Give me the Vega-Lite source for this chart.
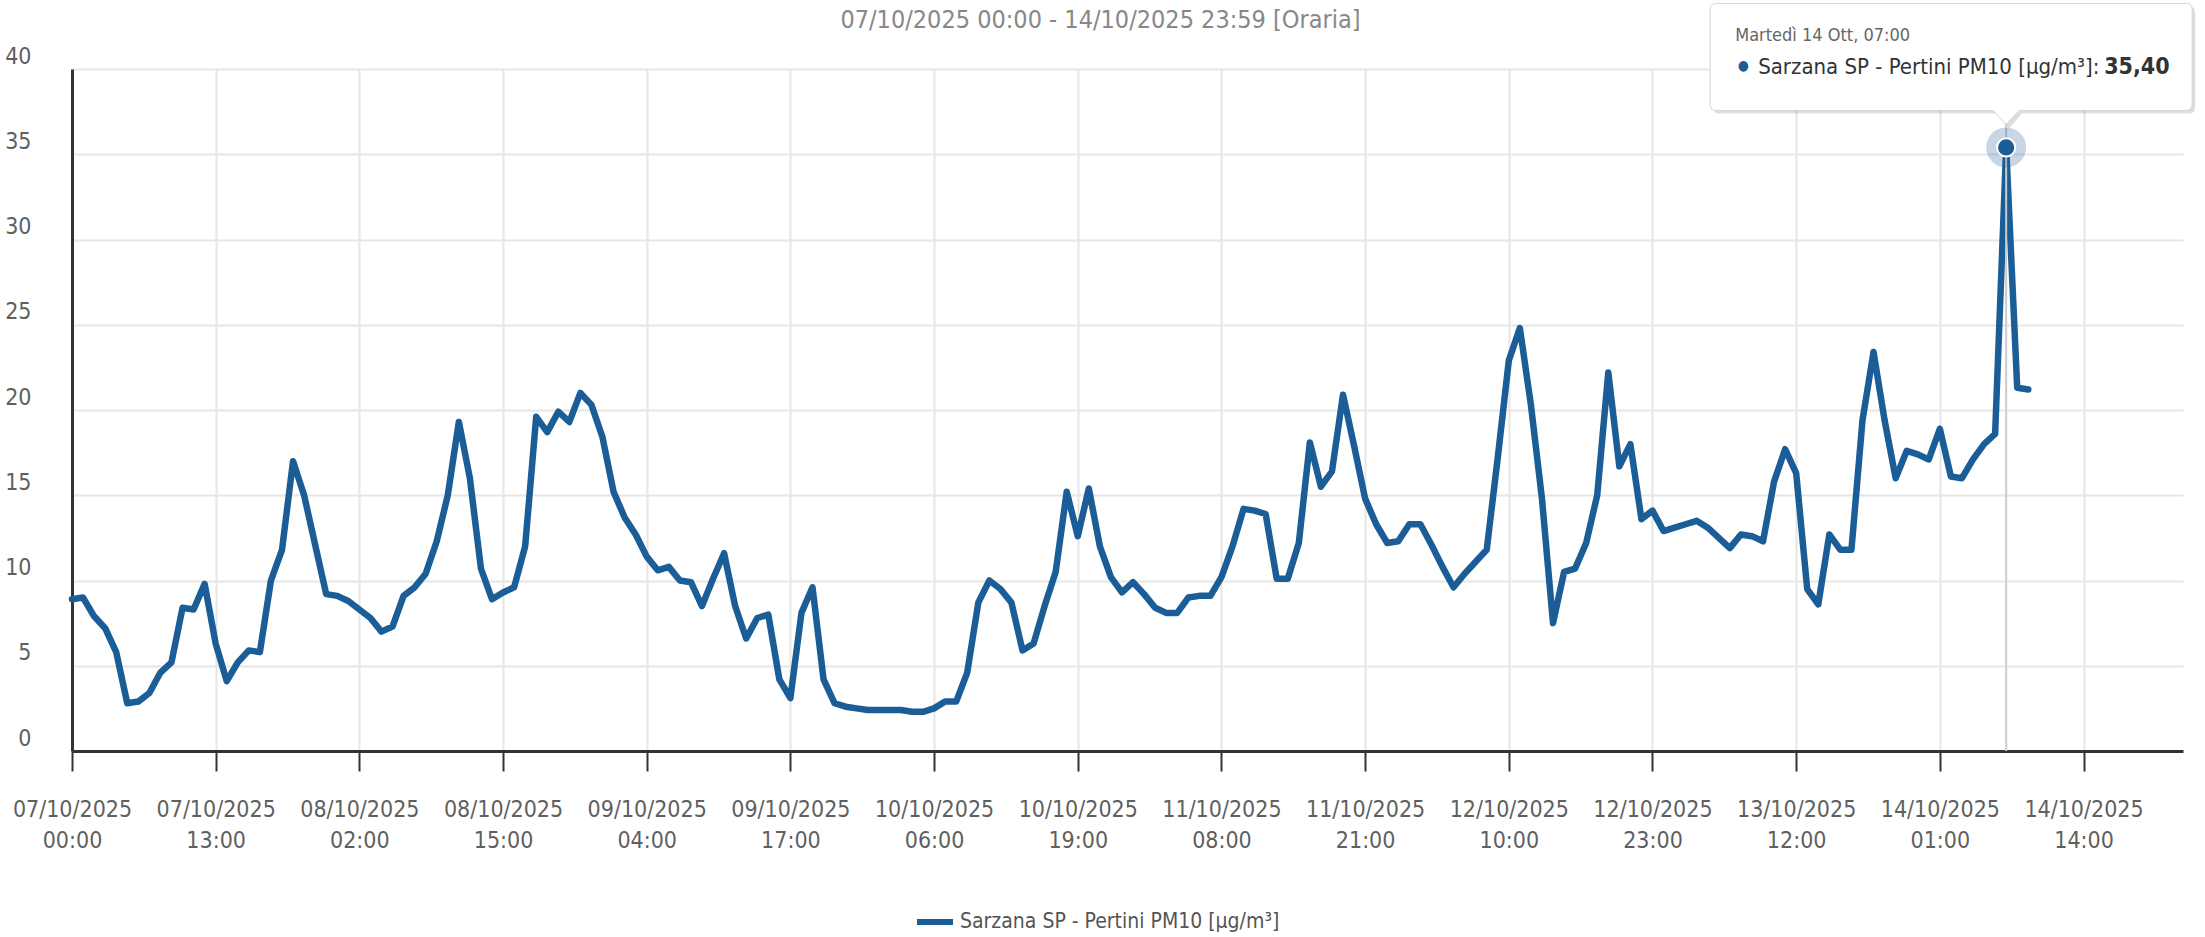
{
  "$schema": "https://vega.github.io/schema/vega-lite/v6.json",
  "width": 2111,
  "height": 682,
  "autosize": {"type": "none"},
  "padding": {"left": 72, "top": 69, "right": 22, "bottom": 186},
  "background": "white",
  "config": {
    "view": {"stroke": null},
    "font": "DejaVu Sans Condensed, DejaVu Sans, sans-serif"
  },
  "title": {
    "text": "07/10/2025 00:00 - 14/10/2025 23:59 [Oraria]",
    "fontSize": 25,
    "fontWeight": "normal",
    "color": "#888888",
    "anchor": "middle",
    "frame": "group",
    "dx": -27,
    "offset": -32
  },
  "datasets": {
    "pm10": [
      {"t": "2025-10-07T00:00", "v": 8.9}, {"t": "2025-10-07T01:00", "v": 9.0}, {"t": "2025-10-07T02:00", "v": 7.9}, {"t": "2025-10-07T03:00", "v": 7.2},
      {"t": "2025-10-07T04:00", "v": 5.8}, {"t": "2025-10-07T05:00", "v": 2.8}, {"t": "2025-10-07T06:00", "v": 2.9}, {"t": "2025-10-07T07:00", "v": 3.4},
      {"t": "2025-10-07T08:00", "v": 4.6}, {"t": "2025-10-07T09:00", "v": 5.2}, {"t": "2025-10-07T10:00", "v": 8.4}, {"t": "2025-10-07T11:00", "v": 8.3},
      {"t": "2025-10-07T12:00", "v": 9.8}, {"t": "2025-10-07T13:00", "v": 6.3}, {"t": "2025-10-07T14:00", "v": 4.1}, {"t": "2025-10-07T15:00", "v": 5.2},
      {"t": "2025-10-07T16:00", "v": 5.9}, {"t": "2025-10-07T17:00", "v": 5.8}, {"t": "2025-10-07T18:00", "v": 10.0}, {"t": "2025-10-07T19:00", "v": 11.8},
      {"t": "2025-10-07T20:00", "v": 17.0}, {"t": "2025-10-07T21:00", "v": 15.0}, {"t": "2025-10-07T22:00", "v": 12.1}, {"t": "2025-10-07T23:00", "v": 9.2},
      {"t": "2025-10-08T00:00", "v": 9.1}, {"t": "2025-10-08T01:00", "v": 8.8}, {"t": "2025-10-08T02:00", "v": 8.3}, {"t": "2025-10-08T03:00", "v": 7.8},
      {"t": "2025-10-08T04:00", "v": 7.0}, {"t": "2025-10-08T05:00", "v": 7.3}, {"t": "2025-10-08T06:00", "v": 9.1}, {"t": "2025-10-08T07:00", "v": 9.6},
      {"t": "2025-10-08T08:00", "v": 10.4}, {"t": "2025-10-08T09:00", "v": 12.3}, {"t": "2025-10-08T10:00", "v": 15.0}, {"t": "2025-10-08T11:00", "v": 19.3},
      {"t": "2025-10-08T12:00", "v": 16.0}, {"t": "2025-10-08T13:00", "v": 10.7}, {"t": "2025-10-08T14:00", "v": 8.9}, {"t": "2025-10-08T15:00", "v": 9.3},
      {"t": "2025-10-08T16:00", "v": 9.6}, {"t": "2025-10-08T17:00", "v": 12.0}, {"t": "2025-10-08T18:00", "v": 19.6}, {"t": "2025-10-08T19:00", "v": 18.7},
      {"t": "2025-10-08T20:00", "v": 19.9}, {"t": "2025-10-08T21:00", "v": 19.3}, {"t": "2025-10-08T22:00", "v": 21.0}, {"t": "2025-10-08T23:00", "v": 20.3},
      {"t": "2025-10-09T00:00", "v": 18.4}, {"t": "2025-10-09T01:00", "v": 15.2}, {"t": "2025-10-09T02:00", "v": 13.7}, {"t": "2025-10-09T03:00", "v": 12.7},
      {"t": "2025-10-09T04:00", "v": 11.4}, {"t": "2025-10-09T05:00", "v": 10.6}, {"t": "2025-10-09T06:00", "v": 10.8}, {"t": "2025-10-09T07:00", "v": 10.0},
      {"t": "2025-10-09T08:00", "v": 9.9}, {"t": "2025-10-09T09:00", "v": 8.5}, {"t": "2025-10-09T10:00", "v": 10.1}, {"t": "2025-10-09T11:00", "v": 11.6},
      {"t": "2025-10-09T12:00", "v": 8.5}, {"t": "2025-10-09T13:00", "v": 6.6}, {"t": "2025-10-09T14:00", "v": 7.8}, {"t": "2025-10-09T15:00", "v": 8.0},
      {"t": "2025-10-09T16:00", "v": 4.2}, {"t": "2025-10-09T17:00", "v": 3.1}, {"t": "2025-10-09T18:00", "v": 8.1}, {"t": "2025-10-09T19:00", "v": 9.6},
      {"t": "2025-10-09T20:00", "v": 4.2}, {"t": "2025-10-09T21:00", "v": 2.8}, {"t": "2025-10-09T22:00", "v": 2.6}, {"t": "2025-10-09T23:00", "v": 2.5},
      {"t": "2025-10-10T00:00", "v": 2.4}, {"t": "2025-10-10T01:00", "v": 2.4}, {"t": "2025-10-10T02:00", "v": 2.4}, {"t": "2025-10-10T03:00", "v": 2.4},
      {"t": "2025-10-10T04:00", "v": 2.3}, {"t": "2025-10-10T05:00", "v": 2.3}, {"t": "2025-10-10T06:00", "v": 2.5}, {"t": "2025-10-10T07:00", "v": 2.9},
      {"t": "2025-10-10T08:00", "v": 2.9}, {"t": "2025-10-10T09:00", "v": 4.6}, {"t": "2025-10-10T10:00", "v": 8.7}, {"t": "2025-10-10T11:00", "v": 10.0},
      {"t": "2025-10-10T12:00", "v": 9.5}, {"t": "2025-10-10T13:00", "v": 8.7}, {"t": "2025-10-10T14:00", "v": 5.9}, {"t": "2025-10-10T15:00", "v": 6.3},
      {"t": "2025-10-10T16:00", "v": 8.5}, {"t": "2025-10-10T17:00", "v": 10.5}, {"t": "2025-10-10T18:00", "v": 15.2}, {"t": "2025-10-10T19:00", "v": 12.6},
      {"t": "2025-10-10T20:00", "v": 15.4}, {"t": "2025-10-10T21:00", "v": 12.0}, {"t": "2025-10-10T22:00", "v": 10.2}, {"t": "2025-10-10T23:00", "v": 9.3},
      {"t": "2025-10-11T00:00", "v": 9.9}, {"t": "2025-10-11T01:00", "v": 9.2}, {"t": "2025-10-11T02:00", "v": 8.4}, {"t": "2025-10-11T03:00", "v": 8.1},
      {"t": "2025-10-11T04:00", "v": 8.1}, {"t": "2025-10-11T05:00", "v": 9.0}, {"t": "2025-10-11T06:00", "v": 9.1}, {"t": "2025-10-11T07:00", "v": 9.1},
      {"t": "2025-10-11T08:00", "v": 10.2}, {"t": "2025-10-11T09:00", "v": 12.0}, {"t": "2025-10-11T10:00", "v": 14.2}, {"t": "2025-10-11T11:00", "v": 14.1},
      {"t": "2025-10-11T12:00", "v": 13.9}, {"t": "2025-10-11T13:00", "v": 10.1}, {"t": "2025-10-11T14:00", "v": 10.1}, {"t": "2025-10-11T15:00", "v": 12.2},
      {"t": "2025-10-11T16:00", "v": 18.1}, {"t": "2025-10-11T17:00", "v": 15.5}, {"t": "2025-10-11T18:00", "v": 16.4}, {"t": "2025-10-11T19:00", "v": 20.9},
      {"t": "2025-10-11T20:00", "v": 17.9}, {"t": "2025-10-11T21:00", "v": 14.8}, {"t": "2025-10-11T22:00", "v": 13.3}, {"t": "2025-10-11T23:00", "v": 12.2},
      {"t": "2025-10-12T00:00", "v": 12.3}, {"t": "2025-10-12T01:00", "v": 13.3}, {"t": "2025-10-12T02:00", "v": 13.3}, {"t": "2025-10-12T03:00", "v": 12.1},
      {"t": "2025-10-12T04:00", "v": 10.8}, {"t": "2025-10-12T05:00", "v": 9.6}, {"t": "2025-10-12T06:00", "v": 10.4}, {"t": "2025-10-12T07:00", "v": 11.1},
      {"t": "2025-10-12T08:00", "v": 11.8}, {"t": "2025-10-12T09:00", "v": 17.2}, {"t": "2025-10-12T10:00", "v": 22.9}, {"t": "2025-10-12T11:00", "v": 24.8},
      {"t": "2025-10-12T12:00", "v": 20.3}, {"t": "2025-10-12T13:00", "v": 14.8}, {"t": "2025-10-12T14:00", "v": 7.5}, {"t": "2025-10-12T15:00", "v": 10.5},
      {"t": "2025-10-12T16:00", "v": 10.7}, {"t": "2025-10-12T17:00", "v": 12.2}, {"t": "2025-10-12T18:00", "v": 15.0}, {"t": "2025-10-12T19:00", "v": 22.2},
      {"t": "2025-10-12T20:00", "v": 16.7}, {"t": "2025-10-12T21:00", "v": 18.0}, {"t": "2025-10-12T22:00", "v": 13.6}, {"t": "2025-10-12T23:00", "v": 14.1},
      {"t": "2025-10-13T00:00", "v": 12.9}, {"t": "2025-10-13T01:00", "v": 13.1}, {"t": "2025-10-13T02:00", "v": 13.3}, {"t": "2025-10-13T03:00", "v": 13.5},
      {"t": "2025-10-13T04:00", "v": 13.1}, {"t": "2025-10-13T05:00", "v": 12.5}, {"t": "2025-10-13T06:00", "v": 11.9}, {"t": "2025-10-13T07:00", "v": 12.7},
      {"t": "2025-10-13T08:00", "v": 12.6}, {"t": "2025-10-13T09:00", "v": 12.3}, {"t": "2025-10-13T10:00", "v": 15.8}, {"t": "2025-10-13T11:00", "v": 17.7},
      {"t": "2025-10-13T12:00", "v": 16.3}, {"t": "2025-10-13T13:00", "v": 9.5}, {"t": "2025-10-13T14:00", "v": 8.6}, {"t": "2025-10-13T15:00", "v": 12.7},
      {"t": "2025-10-13T16:00", "v": 11.8}, {"t": "2025-10-13T17:00", "v": 11.8}, {"t": "2025-10-13T18:00", "v": 19.4}, {"t": "2025-10-13T19:00", "v": 23.4},
      {"t": "2025-10-13T20:00", "v": 19.4}, {"t": "2025-10-13T21:00", "v": 16.0}, {"t": "2025-10-13T22:00", "v": 17.6}, {"t": "2025-10-13T23:00", "v": 17.4},
      {"t": "2025-10-14T00:00", "v": 17.1}, {"t": "2025-10-14T01:00", "v": 18.9}, {"t": "2025-10-14T02:00", "v": 16.1}, {"t": "2025-10-14T03:00", "v": 16.0},
      {"t": "2025-10-14T04:00", "v": 17.1}, {"t": "2025-10-14T05:00", "v": 18.0}, {"t": "2025-10-14T06:00", "v": 18.6}, {"t": "2025-10-14T07:00", "v": 35.4},
      {"t": "2025-10-14T08:00", "v": 21.3}, {"t": "2025-10-14T09:00", "v": 21.2}
    ]
  },
  "data": {"name": "pm10"},
  "layer": [
    {
      "mark": {"type": "line", "strokeWidth": 6.5, "strokeJoin": "round", "strokeCap": "round"},
      "encoding": {
        "x": {
          "field": "t", "type": "temporal",
          "scale": {"domain": [{"year": 2025, "month": 10, "date": 7, "hours": 0}, {"year": 2025, "month": 10, "date": 14, "hours": 23}], "nice": false},
          "axis": {
            "title": null,
            "values": [
              {"year": 2025, "month": 10, "date": 7, "hours": 0}, {"year": 2025, "month": 10, "date": 7, "hours": 13},
              {"year": 2025, "month": 10, "date": 8, "hours": 2}, {"year": 2025, "month": 10, "date": 8, "hours": 15},
              {"year": 2025, "month": 10, "date": 9, "hours": 4}, {"year": 2025, "month": 10, "date": 9, "hours": 17},
              {"year": 2025, "month": 10, "date": 10, "hours": 6}, {"year": 2025, "month": 10, "date": 10, "hours": 19},
              {"year": 2025, "month": 10, "date": 11, "hours": 8}, {"year": 2025, "month": 10, "date": 11, "hours": 21},
              {"year": 2025, "month": 10, "date": 12, "hours": 10}, {"year": 2025, "month": 10, "date": 12, "hours": 23},
              {"year": 2025, "month": 10, "date": 13, "hours": 12}, {"year": 2025, "month": 10, "date": 14, "hours": 1},
              {"year": 2025, "month": 10, "date": 14, "hours": 14}
            ],
            "labelExpr": "[timeFormat(datum.value, '%d/%m/%Y'), timeFormat(datum.value, '%H:%M')]",
            "labelFontSize": 23, "labelColor": "#5f5f5f", "labelPadding": 27, "labelLineHeight": 31,
            "labelBaseline": "top", "labelFlush": false, "labelOverlap": false,
            "tickSize": 20, "tickWidth": 2, "tickColor": "#333333",
            "domainColor": "#333333", "domainWidth": 3,
            "grid": true, "gridColor": "#e6e6e6", "gridWidth": 2
          }
        },
        "y": {
          "field": "v", "type": "quantitative",
          "scale": {"domain": [0, 40], "nice": false},
          "axis": {
            "title": null,
            "values": [0, 5, 10, 15, 20, 25, 30, 35, 40],
            "labelFontSize": 23, "labelColor": "#5f5f5f", "labelPadding": 41,
            "labelBaseline": "alphabetic", "labelOffset": -6, "labelFlush": false,
            "ticks": false, "tickSize": 0,
            "domainColor": "#333333", "domainWidth": 3,
            "grid": true, "gridColor": "#e6e6e6", "gridWidth": 2
          }
        },
        "color": {
          "datum": "Sarzana SP - Pertini PM10 [µg/m³]",
          "type": "nominal",
          "scale": {"range": ["#1b5d96"]},
          "legend": {
            "title": null, "orient": "none", "legendX": 842, "legendY": 832,
            "symbolType": "stroke", "symbolStrokeWidth": 6, "symbolSize": 1296,
            "labelFontSize": 21, "labelColor": "#555555", "labelLimit": 800
          }
        }
      }
    },
    {
      "transform": [{"filter": {"field": "v", "equal": 35.4}}],
      "mark": {"type": "rule", "color": "#cccccc", "strokeWidth": 2},
      "encoding": {
        "x": {"field": "t", "type": "temporal"}
      }
    },
    {
      "transform": [{"filter": {"field": "v", "equal": 35.4}}],
      "mark": {"type": "point", "shape": "circle", "filled": true, "size": 1600, "color": "#1b5d96", "opacity": 0.25},
      "encoding": {
        "x": {"field": "t", "type": "temporal"},
        "y": {"field": "v", "type": "quantitative"}
      }
    },
    {
      "transform": [{"filter": {"field": "v", "equal": 35.4}}],
      "mark": {"type": "point", "shape": "circle", "filled": true, "size": 330, "fill": "#1b5d96", "stroke": "white", "strokeWidth": 2, "opacity": 1},
      "encoding": {
        "x": {"field": "t", "type": "temporal"},
        "y": {"field": "v", "type": "quantitative"}
      }
    },
    {
      "transform": [{"filter": {"field": "v", "equal": 35.4}}],
      "mark": {"type": "point", "shape": "M -5.74 -2.82 L 3.66 -2.82 Q 3.78 -2.82 3.78 -2.70 L 3.78 -0.80 Q 3.78 -0.68 3.66 -0.68 L 0.32 -0.68 L 0.06 -0.38 L -0.20 -0.68 L -5.74 -0.68 Q -5.86 -0.68 -5.86 -0.80 L -5.86 -2.70 Q -5.86 -2.82 -5.74 -2.82 Z", "filled": true, "fill": "#000000", "size": 10000, "opacity": 0.13, "strokeWidth": 0},
      "encoding": {
        "x": {"field": "t", "type": "temporal"},
        "y": {"field": "v", "type": "quantitative"}
      }
    },
    {
      "transform": [{"filter": {"field": "v", "equal": 35.4}}],
      "mark": {"type": "point", "shape": "M -5.8 -2.88 L 3.6 -2.88 Q 3.72 -2.88 3.72 -2.76 L 3.72 -0.86 Q 3.72 -0.74 3.6 -0.74 L 0.26 -0.74 L 0 -0.46 L -0.26 -0.74 L -5.8 -0.74 Q -5.92 -0.74 -5.92 -0.86 L -5.92 -2.76 Q -5.92 -2.88 -5.8 -2.88 Z", "filled": true, "fill": "white", "stroke": "#d6d6d6", "strokeWidth": 1, "size": 10000, "opacity": 1},
      "encoding": {
        "x": {"field": "t", "type": "temporal"},
        "y": {"field": "v", "type": "quantitative"}
      }
    },
    {
      "transform": [{"filter": {"field": "v", "equal": 35.4}}],
      "mark": {"type": "text", "align": "left", "baseline": "alphabetic", "fontSize": 18, "color": "#666666", "dx": -271, "dy": -106},
      "encoding": {
        "x": {"field": "t", "type": "temporal"},
        "y": {"field": "v", "type": "quantitative"},
        "text": {"value": "Martedì 14 Ott, 07:00"}
      }
    },
    {
      "transform": [{"filter": {"field": "v", "equal": 35.4}}],
      "mark": {"type": "text", "align": "center", "baseline": "middle", "fontSize": 14, "color": "#1b5d96", "dx": -263, "dy": -81},
      "encoding": {
        "x": {"field": "t", "type": "temporal"},
        "y": {"field": "v", "type": "quantitative"},
        "text": {"value": "●"}
      }
    },
    {
      "transform": [{"filter": {"field": "v", "equal": 35.4}}],
      "mark": {"type": "text", "align": "left", "baseline": "alphabetic", "fontSize": 22, "color": "#333333", "dx": -248, "dy": -73},
      "encoding": {
        "x": {"field": "t", "type": "temporal"},
        "y": {"field": "v", "type": "quantitative"},
        "text": {"value": "Sarzana SP - Pertini PM10 [µg/m³]:"}
      }
    },
    {
      "transform": [{"filter": {"field": "v", "equal": 35.4}}],
      "mark": {"type": "text", "align": "left", "baseline": "alphabetic", "fontSize": 23, "fontWeight": "bold", "color": "#333333", "dx": 98, "dy": -73},
      "encoding": {
        "x": {"field": "t", "type": "temporal"},
        "y": {"field": "v", "type": "quantitative"},
        "text": {"value": "35,40"}
      }
    }
  ]
}
